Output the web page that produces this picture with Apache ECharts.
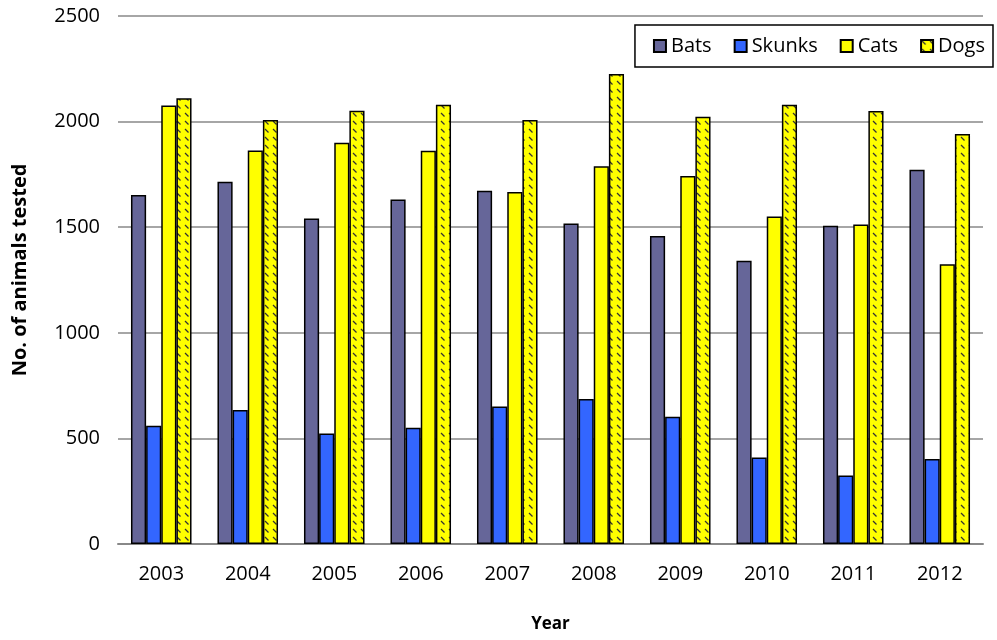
<!DOCTYPE html>
<html>
<head>
<meta charset="utf-8">
<script src="https://cdn.jsdelivr.net/npm/echarts@6/dist/echarts.min.js"></script>
<style>
  html, body { margin: 0; padding: 0; background: #fff; }
  #chart { width: 997px; height: 640px; }
</style>
</head>
<body>
<div id="chart"></div>
<script>
// data
const years = ['2003', '2004', '2005', '2006', '2007', '2008', '2009', '2010', '2011', '2012'];
const bats = [1653, 1715, 1541, 1631, 1672, 1518, 1458, 1341, 1507, 1772];
const skunks = [560, 635, 523, 550, 651, 686, 602, 410, 324, 403];
const cats = [2076, 1863, 1900, 1862, 1667, 1788, 1743, 1551, 1513, 1325];
const dogs = [2111, 2008, 2051, 2080, 2008, 2225, 2023, 2080, 2050, 1941];

// yellow tile with dashed diagonal strokes for the dogs bars
function makeDogPattern() {
  const c = document.createElement('canvas');
  c.width = 8;
  c.height = 8;
  const ctx = c.getContext('2d');
  ctx.fillStyle = '#FFFF00';
  ctx.fillRect(0, 0, 8, 8);
  ctx.strokeStyle = '#333';
  ctx.lineWidth = 1.2;
  ctx.beginPath();
  ctx.moveTo(1, 1);
  ctx.lineTo(4.5, 4.5);
  ctx.stroke();
  return c;
}

const chart = echarts.init(document.getElementById('chart'));
const font = '"Open Sans", "Liberation Sans", sans-serif';

const barBase = {
  type: 'bar',
  barGap: '0%',
  barCategoryGap: '30%'
};

const option = {
  animation: false,
  textStyle: { fontFamily: font, color: '#000' },
  grid: { left: 118, right: 14, top: 16, bottom: 96 },
  legend: {
    right: 4,
    top: 25,
    icon: 'rect',
    itemWidth: 12,
    itemHeight: 12,
    itemGap: 22,
    padding: [11, 8, 11, 18],
    borderColor: '#000',
    borderWidth: 1.5,
    backgroundColor: '#fff',
    textStyle: { fontSize: 20, fontFamily: font, color: '#000' },
    data: ['Bats', 'Skunks', 'Cats', 'Dogs']
  },
  xAxis: {
    type: 'category',
    data: years,
    name: 'Year',
    nameLocation: 'middle',
    nameGap: 72,
    nameTextStyle: { fontSize: 17, fontWeight: 'bold', fontFamily: font, color: '#000' },
    axisLine: { lineStyle: { color: '#888', width: 2 } },
    axisTick: { show: false },
    axisLabel: { fontSize: 20, color: '#000', margin: 20 }
  },
  yAxis: {
    type: 'value',
    min: 0,
    max: 2500,
    interval: 500,
    name: 'No. of animals tested',
    nameLocation: 'middle',
    nameGap: 88,
    nameTextStyle: { fontSize: 20, fontWeight: 'bold', fontFamily: font, color: '#000', padding: [0, 0, 0, 20] },
    axisLine: { show: false },
    axisTick: { show: false },
    axisLabel: { fontSize: 20, color: '#000', margin: 18, formatter: v => String(v) },
    splitLine: { lineStyle: { color: '#888', width: 1.5 } }
  },
  series: [
    Object.assign({}, barBase, {
      name: 'Bats',
      data: bats,
      itemStyle: { color: '#666699', borderColor: '#000', borderWidth: 1.5 }
    }),
    Object.assign({}, barBase, {
      name: 'Skunks',
      data: skunks,
      itemStyle: { color: '#3366FF', borderColor: '#000', borderWidth: 1.5 }
    }),
    Object.assign({}, barBase, {
      name: 'Cats',
      data: cats,
      itemStyle: { color: '#FFFF00', borderColor: '#000', borderWidth: 1.5 }
    }),
    Object.assign({}, barBase, {
      name: 'Dogs',
      data: dogs,
      itemStyle: {
        color: { image: makeDogPattern(), repeat: 'repeat' },
        borderColor: '#000',
        borderWidth: 1.5
      }
    })
  ]
};

chart.setOption(option);
</script>
</body>
</html>
